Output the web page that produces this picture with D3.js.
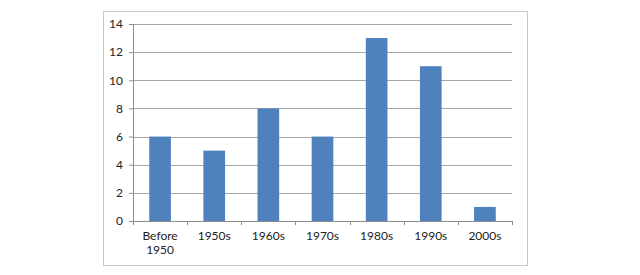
<!DOCTYPE html>
<html>
<head>
<meta charset="utf-8">
<script src="https://cdn.jsdelivr.net/npm/d3@7"></script>
<style>
  html, body { margin: 0; padding: 0; background: #fff; }
  #chart { width: 640px; height: 275px; }
  text { font-family: Lato, "Open Sans", sans-serif; fill: #222; }
</style>
</head>
<body>
<div id="chart"></div>
<script>
(() => {
  "use strict";

  const categories = ["Before 1950", "1950s", "1960s", "1970s", "1980s", "1990s", "2000s"];
  const values = [6, 5, 8, 6, 13, 11, 1];
  const yTicks = [0, 2, 4, 6, 8, 10, 12, 14];

  const width = 640, height = 275;
  const frame = {left: 103, top: 11, right: 527, bottom: 265};
  const margin = {left: 133, top: 24, right: 640 - 512, bottom: 275 - 221};
  const innerW = width - margin.left - margin.right;
  const innerH = height - margin.top - margin.bottom;

  const svg = d3.select("#chart").append("svg")
    .attr("width", width).attr("height", height);

  // outer chart border
  svg.append("rect")
    .attr("x", frame.left + 0.5).attr("y", frame.top + 0.5)
    .attr("width", frame.right - frame.left).attr("height", frame.bottom - frame.top)
    .attr("fill", "none").attr("stroke", "#c8c8c8");

  const g = svg.append("g").attr("transform", `translate(${margin.left},${margin.top})`);

  const x = d3.scaleBand().domain(categories).range([0, innerW])
    .paddingInner(0.6).paddingOuter(0.3);
  const y = d3.scaleLinear().domain([0, 14]).range([innerH, 0]);

  // gridlines
  g.append("g").selectAll("line").data(yTicks.slice(1)).join("line")
    .attr("x1", 0).attr("x2", innerW)
    .attr("y1", d => Math.round(y(d)) + 0.5).attr("y2", d => Math.round(y(d)) + 0.5)
    .attr("stroke", "#a6a6a6");

  // bars
  g.append("g").selectAll("rect").data(values).join("rect")
    .attr("x", (d, i) => x(categories[i]))
    .attr("y", d => y(d))
    .attr("width", x.bandwidth())
    .attr("height", d => innerH - y(d))
    .attr("fill", "#4f81bd");

  // y axis
  const yAxis = g.append("g")
    .call(d3.axisLeft(y).tickValues(yTicks).tickSize(4).tickPadding(6));
  yAxis.select(".domain").attr("stroke", "#8c8c8c").attr("d", `M0.5,0V${innerH}`);
  yAxis.selectAll(".tick line").attr("stroke", "#8c8c8c");
  yAxis.selectAll("text").style("font-size", "12px").attr("fill", "#222");

  // x axis with ticks at category boundaries
  const xg = g.append("g").attr("transform", `translate(0,${innerH})`);
  xg.append("line").attr("x1", 0).attr("x2", innerW).attr("y1", 0.5).attr("y2", 0.5)
    .attr("stroke", "#8c8c8c");
  const step = x.step();
  const bounds = d3.range(categories.length + 1).map(i => Math.round(x(categories[0]) - x.step() * 0.3 + i * step));
  xg.selectAll("line.tk").data(bounds).join("line").attr("class", "tk")
    .attr("x1", d => d + 0.5).attr("x2", d => d + 0.5).attr("y1", 0).attr("y2", 4)
    .attr("stroke", "#8c8c8c");

  const labels = xg.selectAll("text.lbl").data(categories).join("text").attr("class", "lbl")
    .attr("x", d => x(d) + x.bandwidth() / 2)
    .attr("y", 19)
    .attr("text-anchor", "middle")
    .style("font-size", "12px");
  labels.each(function(d) {
    const parts = d === "Before 1950" ? ["Before", "1950"] : [d];
    d3.select(this).selectAll("tspan").data(parts).join("tspan")
      .attr("x", x(d) + x.bandwidth() / 2)
      .attr("dy", (p, i) => i === 0 ? 0 : 14)
      .text(p => p);
  });
})();
</script>
</body>
</html>
